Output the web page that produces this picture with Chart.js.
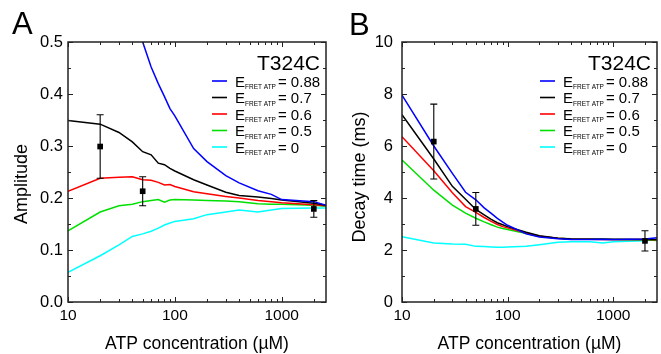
<!DOCTYPE html>
<html>
<head>
<meta charset="utf-8">
<script src="https://cdn.jsdelivr.net/npm/chart.js@4.4.1/dist/chart.umd.min.js"></script>
<style>
  html, body { margin: 0; padding: 0; background: #fff; }
  #wrap { position: relative; width: 661px; height: 354px; overflow: hidden; }
  canvas { position: absolute; top: 0; }
  #cA { left: 0; }
  #cB { left: 330px; }
</style>
</head>
<body>
<div id="wrap">
  <canvas id="cA" width="330" height="354"></canvas>
  <canvas id="cB" width="331" height="354"></canvas>
</div>
<script>
// ---------------- DATA ----------------
const conc = [10, 20, 30, 40, 50, 60, 70, 80, 90, 100, 150, 200, 300, 400, 600, 800, 1000, 2000, 2600];
const seriesNames = ["0.88", "0.7", "0.6", "0.5", "0"];
const seriesColors = ["#0000ff", "#000000", "#ff0000", "#00e000", "#00ffff"];

// Panel A: Amplitude
const ampE088 = [null, null, null, 0.56, 0.50, 0.452, 0.42, 0.395, 0.372, 0.358, 0.295, 0.27, 0.243, 0.229, 0.214, 0.207, 0.197, 0.193, 0.186];
const ampE07  = [0.349, 0.342, 0.326, 0.308, 0.289, 0.283, 0.267, 0.264, 0.257, 0.252, 0.235, 0.225, 0.211, 0.205, 0.202, 0.199, 0.196, 0.190, 0.186];
const ampE06  = [0.213, 0.238, 0.240, 0.241, 0.235, 0.234, 0.230, 0.225, 0.226, 0.222, 0.212, 0.208, 0.203, 0.200, 0.195, 0.193, 0.191, 0.187, 0.185];
const ampE05  = [0.137, 0.173, 0.185, 0.188, 0.193, 0.195, 0.197, 0.192, 0.196, 0.197, 0.196, 0.195, 0.194, 0.193, 0.189, 0.188, 0.188, 0.186, 0.184];
const ampE0   = [0.057, 0.089, 0.110, 0.126, 0.131, 0.136, 0.142, 0.148, 0.152, 0.155, 0.160, 0.168, 0.173, 0.177, 0.173, 0.177, 0.180, 0.181, 0.181];

// Panel B: Decay time (ms)
const decE088 = [7.96, 6.00, 4.95, 4.22, 3.93, 3.62, 3.41, 3.22, 3.07, 2.95, 2.62, 2.50, 2.43, 2.40, 2.40, 2.41, 2.40, 2.42, 2.47];
const decE07  = [7.20, 5.50, 4.45, 3.95, 3.56, 3.35, 3.18, 3.05, 2.97, 2.90, 2.68, 2.55, 2.45, 2.42, 2.41, 2.41, 2.40, 2.40, 2.40];
const decE06  = [6.36, 5.05, 4.20, 3.67, 3.45, 3.25, 3.10, 2.98, 2.90, 2.85, 2.65, 2.53, 2.45, 2.42, 2.41, 2.40, 2.40, 2.40, 2.39];
const decE05  = [5.46, 4.30, 3.73, 3.42, 3.22, 3.08, 2.97, 2.88, 2.83, 2.79, 2.63, 2.52, 2.45, 2.43, 2.42, 2.42, 2.41, 2.39, 2.37];
const decE0   = [2.51, 2.27, 2.23, 2.22, 2.14, 2.13, 2.12, 2.11, 2.11, 2.12, 2.14, 2.20, 2.30, 2.32, 2.32, 2.27, 2.32, 2.36, 2.40];

// Measured points with error bars
const measConc = [20, 50, 2000];
const ampMean = [0.299, 0.213, 0.179];
const ampErr  = [0.061, 0.028, 0.016];
const decMean = [6.17, 3.58, 2.35];
const decErr  = [1.44, 0.63, 0.39];

// Axis ticks
const xMajor = [10, 100, 1000];
const xMinor = [20, 30, 40, 50, 60, 70, 80, 90, 200, 300, 400, 500, 600, 700, 800, 900, 2000];
const ampTicks = [0, 0.1, 0.2, 0.3, 0.4, 0.5];
const ampMinor = [0.05, 0.15, 0.25, 0.35, 0.45];
const decTicks = [0, 2, 4, 6, 8, 10];
const decMinor = [1, 3, 5, 7, 9];

// ---------------- DRAWING ----------------
const FONT = '"Liberation Sans", Arial, Helvetica, sans-serif';

const decorPlugin = {
  id: 'decor',
  beforeDatasetDraw(chart, args) {
    const ds = chart.data.datasets[args.index];
    if (!ds.errors) return;
    const ctx = chart.ctx, xs = chart.scales.x, ys = chart.scales.y;
    ctx.save();
    ctx.strokeStyle = '#000';
    ctx.lineWidth = 1.1;
    ds.data.forEach((p, i) => {
      const px = xs.getPixelForValue(p.x);
      const top = ys.getPixelForValue(p.y + ds.errors[i]);
      const bot = ys.getPixelForValue(p.y - ds.errors[i]);
      ctx.beginPath();
      ctx.moveTo(px, top); ctx.lineTo(px, bot);
      ctx.moveTo(px - 3.5, top); ctx.lineTo(px + 3.5, top);
      ctx.moveTo(px - 3.5, bot); ctx.lineTo(px + 3.5, bot);
      ctx.stroke();
    });
    ctx.restore();
  },
  afterDraw(chart) {
    const o = chart.options.plugins.decor;
    const ctx = chart.ctx, a = chart.chartArea;
    const xs = chart.scales.x, ys = chart.scales.y;
    ctx.save();
    // frame
    ctx.strokeStyle = '#222';
    ctx.lineWidth = 1.5;
    ctx.strokeRect(a.left, a.top, a.right - a.left, a.bottom - a.top);
    // ticks
    ctx.lineWidth = 1;
    ctx.beginPath();
    const vt = (v, len) => {
      const px = Math.round(xs.getPixelForValue(v)) + 0.5;
      if (px < a.left - 1 || px > a.right + 1) return;
      ctx.moveTo(px, a.bottom); ctx.lineTo(px, a.bottom - len);
      ctx.moveTo(px, a.top); ctx.lineTo(px, a.top + len);
    };
    const ht = (v, len) => {
      const py = Math.round(ys.getPixelForValue(v)) + 0.5;
      ctx.moveTo(a.left, py); ctx.lineTo(a.left + len, py);
      ctx.moveTo(a.right, py); ctx.lineTo(a.right - len, py);
    };
    xMajor.forEach(v => vt(v, 5));
    xMinor.forEach(v => vt(v, 3));
    o.yMajor.forEach(v => ht(v, 5));
    o.yMinor.forEach(v => ht(v, 3));
    ctx.stroke();

    ctx.fillStyle = '#000';
    // panel letter
    ctx.font = '31px ' + FONT;
    ctx.textAlign = 'left';
    ctx.textBaseline = 'alphabetic';
    ctx.fillText(o.letter, o.letterX, o.letterY);
    // x title
    ctx.font = '17.5px ' + FONT;
    ctx.textAlign = 'center';
    ctx.fillText(o.xTitle, (a.left + a.right) / 2, 349);
    // y title
    ctx.save();
    ctx.translate(o.yTitleX, o.yTitleY);
    ctx.rotate(-Math.PI / 2);
    ctx.textBaseline = 'middle';
    ctx.textAlign = 'center';
    ctx.font = '18px ' + FONT;
    ctx.fillText(o.yTitle, 0, 0);
    ctx.restore();
    // sample label
    ctx.font = '21px ' + FONT;
    ctx.textAlign = 'right';
    ctx.textBaseline = 'middle';
    ctx.fillText(o.sample, a.right - 6, 64);
    // legend
    let rowY = 81;
    chart.data.datasets.forEach(ds => {
      if (ds.legendValue === undefined) return;
      ctx.strokeStyle = ds.borderColor;
      ctx.lineWidth = 1.6;
      ctx.beginPath();
      ctx.moveTo(o.legX, rowY); ctx.lineTo(o.legX + 15, rowY);
      ctx.stroke();
      let tx = o.legX + 23;
      ctx.fillStyle = '#000';
      ctx.textAlign = 'left';
      ctx.textBaseline = 'alphabetic';
      const base = rowY + 5.5;
      ctx.font = '15px ' + FONT;
      ctx.fillText('E', tx, base);
      tx += ctx.measureText('E').width;
      ctx.font = '6.5px ' + FONT;
      ctx.fillText('FRET ATP', tx, base + 2.5);
      tx += ctx.measureText('FRET ATP').width + 2;
      ctx.font = '15px ' + FONT;
      ctx.fillText('= ' + ds.legendValue, tx, base);
      rowY += 16.5;
    });
    ctx.restore();
  }
};

function makePanel(canvasId, values, mean, err, cfg) {
  const datasets = [{
    type: 'scatter',
    data: measConc.map((c, i) => ({ x: c, y: mean[i] })),
    errors: err,
    pointStyle: 'rect',
    pointRadius: 4,
    pointHoverRadius: 4,
    backgroundColor: '#000',
    borderColor: '#000',
    borderWidth: 0,
    showLine: false,
    order: -1
  }];
  values.forEach((arr, k) => {
    datasets.push({
      type: 'line',
      data: conc.map((c, i) => ({ x: c, y: arr[i] })),
      legendValue: seriesNames[k],
      borderColor: seriesColors[k],
      backgroundColor: seriesColors[k],
      borderWidth: 1.5,
      pointRadius: 0,
      tension: 0,
      spanGaps: false,
      order: k
    });
  });
  return new Chart(document.getElementById(canvasId), {
    data: { datasets },
    plugins: [decorPlugin],
    options: {
      responsive: false,
      animation: false,
      devicePixelRatio: 1,
      layout: { padding: { top: 42, right: 1, left: 0, bottom: 0 } },
      plugins: {
        legend: { display: false },
        tooltip: { enabled: false },
        decor: cfg.decor
      },
      scales: {
        x: {
          type: 'logarithmic',
          min: 10, max: 2600,
          grid: { display: false, drawTicks: false },
          border: { display: false },
          afterBuildTicks: s => { s.ticks = xMajor.map(v => ({ value: v })); },
          afterFit: s => { s.height = 52; },
          ticks: {
            autoSkip: false, maxRotation: 0, padding: 4,
            color: '#000',
            font: { family: FONT, size: 15.5 },
            callback: v => String(v)
          }
        },
        y: {
          type: 'linear',
          min: cfg.yMin, max: cfg.yMax,
          grid: { display: false, drawTicks: false },
          border: { display: false },
          afterBuildTicks: s => { s.ticks = cfg.yTicks.map(v => ({ value: v })); },
          afterFit: s => { s.width = cfg.yWidth; },
          ticks: {
            autoSkip: false, padding: cfg.yPad,
            color: '#000',
            font: { family: FONT, size: 16.5 },
            callback: cfg.yFmt
          }
        }
      }
    }
  });
}

makePanel('cA', [ampE088, ampE07, ampE06, ampE05, ampE0], ampMean, ampErr, {
  yMin: 0, yMax: 0.5, yTicks: ampTicks, yWidth: 68, yPad: 5,
  yFmt: v => Number(v).toFixed(1),
  decor: {
    letter: 'A', letterX: 12, letterY: 34,
    xTitle: 'ATP concentration (\u00B5M)',
    yTitle: 'Amplitude', yTitleX: 22, yTitleY: 184,
    sample: 'T324C', legX: 212,
    yMajor: ampTicks, yMinor: ampMinor
  }
});

makePanel('cB', [decE088, decE07, decE06, decE05, decE0], decMean, decErr, {
  yMin: 0, yMax: 10, yTicks: decTicks, yWidth: 72, yPad: 9,
  yFmt: v => String(v),
  decor: {
    letter: 'B', letterX: 19, letterY: 35,
    xTitle: 'ATP concentration (\u00B5M)',
    yTitle: 'Decay time (ms)', yTitleX: 30, yTitleY: 177,
    sample: 'T324C', legX: 210,
    yMajor: decTicks, yMinor: decMinor
  }
});
</script>
</body>
</html>
